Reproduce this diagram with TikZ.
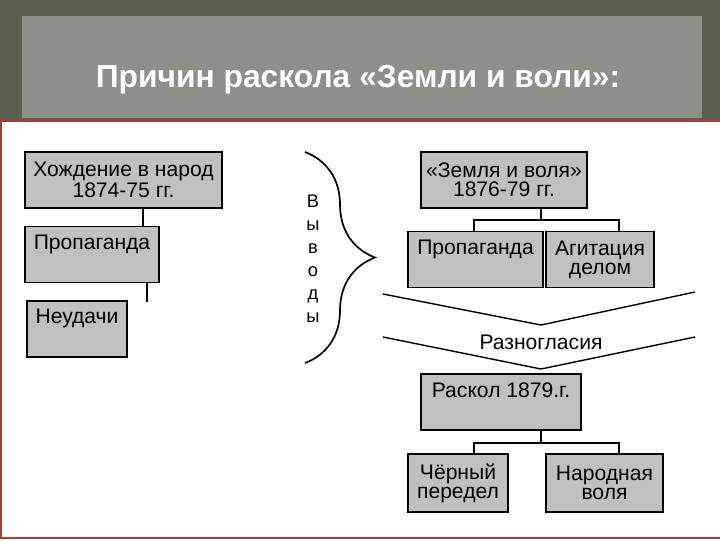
\documentclass[tikz,border=0pt]{standalone}
\usepackage{fontspec}
\setmainfont{Liberation Sans}
\usepackage{tikz}
\usetikzlibrary{calc, positioning, decorations.pathreplacing}
\definecolor{cadre}{HTML}{5A6050}
\definecolor{papier}{HTML}{8D9088}
\definecolor{gris}{HTML}{C0C0C0}
\definecolor{bordrouge}{HTML}{B03A30}

\begin{document}
\begin{tikzpicture}[
		x=0.025cm, y=-0.025cm,
		boite/.style={rectangle, draw=black, fill=gris, line width=1.1pt, minimum height=1.4cm, inner sep=1pt, align=center, font=\fontsize{15pt}{13.5pt}\selectfont},
		trait/.style={line width=0.8pt},
		fleche/.style={line width=1pt}
		]
	
		\useasboundingbox (0,0) rectangle (720,540);
	
		% Bandeau du titre
		\fill[cadre] (0,0) rectangle (720,121);
		\fill[papier] (22,16) rectangle (702,118);
		\node[text=white, font=\bfseries\fontsize{22.6pt}{26pt}\selectfont, anchor=base] (titre) at (358,87) {Причин раскола «Земли и воли»:};
		\draw[bordrouge, line width=0.8pt] (720,121) -- (1,121) -- (1,538) -- (720,538);
	
		% Colonne gauche
		\node[boite, minimum width=4.925cm] (H) at (123.5,180) {Хождение в народ\\1874-75 гг.};
		\node[boite, minimum width=3.35cm] (PL) at (92,254.5) {Пропаганда\\\strut};
		\node[boite, minimum width=2.5cm] (N) at (77,329) {Неудачи\\\strut};
	
		\coordinate (H1) at (143,217);
		\coordinate (P1) at (147,302);
		\draw[trait] (H1 |- H.south) -- (H1 |- PL.north);
		\draw[line width=1.4pt] (P1 |- PL.south) -- (P1);
	
		% Accolade
		\coordinate (AH) at (305,152);
		\coordinate (AB) at (305,363);
		\draw[line width=1.2pt, decorate, decoration={brace, amplitude=1.75cm}] (AH) -- (AB);
		\node[align=center, font=\fontsize{13pt}{16.3pt}\selectfont] (V) at (313,259) {В\\ы\\в\\о\\д\\ы};
	
		% Colonne droite
		\node[boite, minimum width=4.15cm] (ZV) at (504,180) {«Земля и воля»\\1876-79 гг.};
		\node[boite, minimum width=3.375cm] (PR) at (475.5,259.5) {Пропаганда\\\strut};
		\node[boite, minimum width=2.7cm] (A) at (600,259.5) {Агитация\\делом};
	
		\coordinate (Z0) at (541,220);
		\coordinate (Z1) at (474,220);
		\coordinate (Z2) at (619,220);
		\draw[line width=1.2pt] (Z0 |- ZV.south) -- (Z0);
		\draw[trait] (Z1 |- PR.north) -- (Z1) -- (Z2) -- (Z2 |- A.north);
	
		% Chevrons
		\coordinate (C1g) at (383,294);
		\coordinate (C1m) at (541,325);
		\coordinate (C1d) at (695,292);
		\coordinate (C2g) at (383,337);
		\coordinate (C2m) at (541,369);
		\coordinate (C2d) at (695,337);
		\draw[fleche] (C1g) -- (C1m) -- (C1d);
		\draw[fleche] (C2g) -- (C2m) -- (C2d);
		\node[font=\fontsize{15pt}{14pt}\selectfont] (RZ) at (541,342) {Разногласия};
	
		\node[boite, minimum width=4cm] (R) at (501,402) {Раскол 1879.г.\\\strut};
		\node[boite, minimum width=2.5cm, minimum height=1.45cm] (CP) at (458,483) {Чёрный\\передел};
		\node[boite, minimum width=2.925cm, minimum height=1.45cm] (NV) at (604.5,483) {Народная\\воля};
	
		\coordinate (R0) at (541,443);
		\coordinate (R1) at (474,443);
		\coordinate (R2) at (619,443);
		\draw[line width=1.2pt] (R0 |- R.south) -- (R0);
		\draw[trait] (R1 |- CP.north) -- (R1) -- (R2) -- (R2 |- NV.north);
	\end{tikzpicture}
\end{document}
